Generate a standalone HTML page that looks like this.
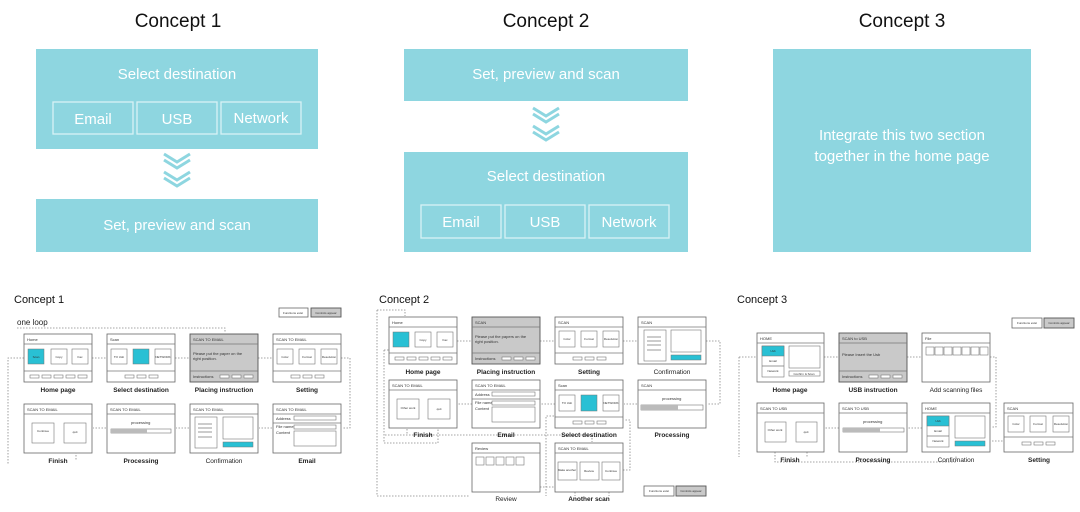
<!DOCTYPE html>
<html><head><meta charset="utf-8"><style>
html,body{margin:0;padding:0;background:#fff;}
svg{display:block;font-family:"Liberation Sans",sans-serif;}
.b{fill:#8ed6e0}
.w{fill:none;stroke:#d8f2f5;stroke-width:1.3}
.t{fill:#fff;font-size:15px;text-anchor:middle}
.h{fill:#111;font-size:19px;text-anchor:middle}
.s{fill:#fff;stroke:#666;stroke-width:.8}
.g{fill:#c9c9c9;stroke:#555;stroke-width:.9}
.l{stroke:#777;stroke-width:.7;fill:none}
.i{fill:#fff;stroke:#777;stroke-width:.6}
.c{fill:#29c0d4;stroke:#777;stroke-width:.5}
.d{stroke:#888;stroke-width:.8;stroke-dasharray:1.5 1.5;fill:none}
.x{font-size:4px;fill:#333}
.y{font-size:3px;fill:#333;text-anchor:middle}
.lb{font-size:6.5px;fill:#222;text-anchor:middle;font-weight:bold}
.ct{font-size:11px;fill:#111}
.ch{fill:none;stroke:#8ed6e0;stroke-width:3}
</style></head><body>
<svg width="1080" height="512" viewBox="0 0 1080 512" xmlns="http://www.w3.org/2000/svg">
<!-- TOP -->
<text class="h" x="178" y="27">Concept 1</text>
<text class="h" x="546" y="27">Concept 2</text>
<text class="h" x="902" y="27">Concept 3</text>

<rect class="b" x="36" y="49" width="282" height="100"/>
<text class="t" x="177" y="79">Select destination</text>
<rect class="w" x="53" y="102" width="80" height="32"/><text class="t" x="93" y="124">Email</text>
<rect class="w" x="137" y="102" width="80" height="32"/><text class="t" x="177" y="124">USB</text>
<rect class="w" x="221" y="102" width="80" height="32"/><text class="t" x="261" y="123">Network</text>
<g transform="translate(177,154)"><path class="ch" d="M-13,0 L0,8 L13,0 M-13,6 L0,14 L13,6 M-13,18 L0,26 L13,18 M-13,24 L0,32 L13,24"/></g>
<rect class="b" x="36" y="199" width="282" height="53"/>
<text class="t" x="177" y="230">Set, preview and scan</text>

<rect class="b" x="404" y="49" width="284" height="52"/>
<text class="t" x="546" y="79">Set, preview and scan</text>
<g transform="translate(546,108)"><path class="ch" d="M-13,0 L0,8 L13,0 M-13,6 L0,14 L13,6 M-13,18 L0,26 L13,18 M-13,24 L0,32 L13,24"/></g>
<rect class="b" x="404" y="152" width="284" height="100"/>
<text class="t" x="546" y="181">Select destination</text>
<rect class="w" x="421" y="205" width="80" height="33"/><text class="t" x="461" y="227">Email</text>
<rect class="w" x="505" y="205" width="80" height="33"/><text class="t" x="545" y="227">USB</text>
<rect class="w" x="589" y="205" width="80" height="33"/><text class="t" x="629" y="227">Network</text>

<rect class="b" x="773" y="49" width="258" height="203"/>
<text class="t" x="902" y="140">Integrate this two section</text>
<text class="t" x="902" y="161">together in the home page</text>

<!-- BOTTOM CONCEPT 1 -->
<text class="ct" x="14" y="303">Concept 1</text>
<text style="font-size:8px;fill:#222" x="17" y="325">one loop</text>
<rect class="s" x="279" y="308" width="29" height="9"/><text class="y" x="293" y="314">Functions exist</text>
<rect class="g" x="311" y="308" width="30" height="9"/><text class="y" x="326" y="314">Controls appear</text>
<path class="d" d="M17,328 H225 V333 M24,358 H8 V465 M92,358 H106 M175,358 H189 M258,358 H272 M341,358 H350 V428 H342 M272,428 H259 M189,428 H176 M106,428 H93 M76,440 V460"/>
<!-- s1 -->
<g transform="translate(24,334)"><rect class="s" width="68" height="48"/><path class="l" d="M0,10H68M0,37H68"/><text class="x" x="3" y="7">Home</text>
<rect class="c" x="4" y="15" width="16" height="15"/><rect class="i" x="27" y="15" width="16" height="15"/><rect class="i" x="48" y="15" width="16" height="15"/>
<text class="y" x="35" y="24">Copy</text><text class="y" x="56" y="24">Fax</text><text class="y" x="12" y="24">Scan</text>
<rect class="i" x="6" y="41" width="9" height="3"/><rect class="i" x="18" y="41" width="9" height="3"/><rect class="i" x="30" y="41" width="9" height="3"/><rect class="i" x="42" y="41" width="9" height="3"/><rect class="i" x="54" y="41" width="9" height="3"/></g>
<text class="lb" x="58" y="392">Home page</text>
<g transform="translate(107,334)"><rect class="s" width="68" height="48"/><path class="l" d="M0,10H68M0,37H68"/><text class="x" x="3" y="7">Scan</text>
<rect class="i" x="4" y="15" width="16" height="15"/><rect class="c" x="26" y="15" width="16" height="15"/><rect class="i" x="48" y="15" width="16" height="15"/>
<text class="y" x="12" y="24">TO Usb</text><text class="y" x="56" y="24">NETWORK</text>
<rect class="i" x="18" y="41" width="9" height="3"/><rect class="i" x="30" y="41" width="9" height="3"/><rect class="i" x="42" y="41" width="9" height="3"/></g>
<text class="lb" x="141" y="392">Select destination</text>
<g transform="translate(190,334)"><rect class="g" width="68" height="48"/><path class="l" d="M0,10H68M0,37H68"/><text class="x" x="3" y="7">SCAN TO EMAIL</text>
<text class="x" x="3" y="21">Please put the paper on the</text><text class="x" x="3" y="26">right position.</text><text class="x" x="3" y="44">Instructions</text>
<rect class="i" x="30" y="41" width="9" height="3"/><rect class="i" x="42" y="41" width="9" height="3"/><rect class="i" x="54" y="41" width="9" height="3"/></g>
<text class="lb" x="224" y="392">Placing instruction</text>
<g transform="translate(273,334)"><rect class="s" width="68" height="48"/><path class="l" d="M0,10H68M0,37H68"/><text class="x" x="3" y="7">SCAN TO EMAIL</text>
<rect class="i" x="4" y="15" width="16" height="15"/><rect class="i" x="26" y="15" width="16" height="15"/><rect class="i" x="48" y="15" width="16" height="15"/>
<text class="y" x="12" y="24">Color</text><text class="y" x="34" y="24">Format</text><text class="y" x="56" y="24">Resolution</text>
<rect class="i" x="18" y="41" width="9" height="3"/><rect class="i" x="30" y="41" width="9" height="3"/><rect class="i" x="42" y="41" width="9" height="3"/></g>
<text class="lb" x="307" y="392">Setting</text>
<g transform="translate(24,404)"><rect class="s" width="68" height="49"/><path class="l" d="M0,10H68"/><text class="x" x="3" y="7">SCAN TO EMAIL</text>
<rect class="i" x="8" y="19" width="22" height="20"/><rect class="i" x="40" y="19" width="22" height="20"/><text class="y" x="19" y="28">Continue</text><text class="y" x="51" y="29">quit</text></g>
<text class="lb" x="58" y="463">Finish</text>
<g transform="translate(107,404)"><rect class="s" width="68" height="49"/><path class="l" d="M0,10H68"/><text class="x" x="3" y="7">SCAN TO EMAIL</text>
<text class="x" x="24" y="20">processing</text><rect class="i" x="4" y="25" width="60" height="4"/><rect x="4" y="25" width="36" height="4" fill="#bbb"/></g>
<text class="lb" x="141" y="463">Processing</text>
<g transform="translate(190,404)"><rect class="s" width="68" height="49"/><path class="l" d="M0,10H68"/><text class="x" x="3" y="7">SCAN TO EMAIL</text>
<rect class="i" x="5" y="13" width="22" height="31"/><path class="l" d="M8,20H22M8,24H22M8,28H22M8,33H22"/><rect class="i" x="33" y="13" width="30" height="22"/><rect class="c" x="33" y="38" width="30" height="5"/></g>
<text class="lb" x="224" y="463" style="font-weight:normal">Confirmation</text>
<g transform="translate(273,404)"><rect class="s" width="68" height="49"/><path class="l" d="M0,10H68M0,19H68"/><text class="x" x="3" y="7">SCAN TO EMAIL</text>
<text class="x" x="3" y="16">Address</text><rect class="i" x="21" y="12" width="42" height="4"/><text class="x" x="3" y="24">File name</text><rect class="i" x="21" y="21" width="42" height="4"/><text class="x" x="3" y="30">Content</text><rect class="i" x="21" y="27" width="42" height="15"/></g>
<text class="lb" x="307" y="463">Email</text>

<!-- BOTTOM CONCEPT 2 -->
<text class="ct" x="379" y="303">Concept 2</text>
<path class="d" d="M377,310 H405 V316 M377,310 V496 H470 M457,341 H471 M540,341 H554 M623,341 H637 M706,341 H720 V404 H707 M637,404 H624 M555,404 H541 M472,404 H458 M384,350 V443 H438 V420 M384,350 H389 M407,420 V435 M385,435 H592 V442 M554,416 H546 V496 M540,487 H554 M575,480 V496 M623,470 H630 V420 H624 M609,480 V496"/>
<g transform="translate(389,317)"><rect class="s" width="68" height="47"/><path class="l" d="M0,10H68M0,36H68"/><text class="x" x="3" y="7">Home</text>
<rect class="c" x="4" y="15" width="16" height="15"/><rect class="i" x="26" y="15" width="16" height="15"/><rect class="i" x="48" y="15" width="16" height="15"/><text class="y" x="34" y="24">Copy</text><text class="y" x="56" y="24">Fax</text>
<rect class="i" x="6" y="40" width="9" height="3"/><rect class="i" x="18" y="40" width="9" height="3"/><rect class="i" x="30" y="40" width="9" height="3"/><rect class="i" x="42" y="40" width="9" height="3"/><rect class="i" x="54" y="40" width="9" height="3"/></g>
<text class="lb" x="423" y="374">Home page</text>
<g transform="translate(472,317)"><rect class="g" width="68" height="47"/><path class="l" d="M0,10H68M0,36H68"/><text class="x" x="3" y="7">SCAN</text>
<text class="x" x="3" y="21">Please put the papers on the</text><text class="x" x="3" y="26">right position.</text><text class="x" x="3" y="43">Instructions</text>
<rect class="i" x="30" y="40" width="9" height="3"/><rect class="i" x="42" y="40" width="9" height="3"/><rect class="i" x="54" y="40" width="9" height="3"/></g>
<text class="lb" x="506" y="374">Placing instruction</text>
<g transform="translate(555,317)"><rect class="s" width="68" height="47"/><path class="l" d="M0,10H68M0,36H68"/><text class="x" x="3" y="7">SCAN</text>
<rect class="i" x="4" y="14" width="16" height="16"/><rect class="i" x="26" y="14" width="16" height="16"/><rect class="i" x="48" y="14" width="16" height="16"/><text class="y" x="12" y="23">Color</text><text class="y" x="34" y="23">Format</text><text class="y" x="56" y="23">Resolution</text>
<rect class="i" x="18" y="40" width="9" height="3"/><rect class="i" x="30" y="40" width="9" height="3"/><rect class="i" x="42" y="40" width="9" height="3"/></g>
<text class="lb" x="589" y="374">Setting</text>
<g transform="translate(638,317)"><rect class="s" width="68" height="47"/><path class="l" d="M0,10H68"/><text class="x" x="3" y="7">SCAN</text>
<rect class="i" x="6" y="13" width="22" height="31"/><path class="l" d="M9,20H23M9,24H23M9,28H23M9,33H23"/><rect class="i" x="33" y="13" width="30" height="22"/><rect class="c" x="33" y="38" width="30" height="5"/></g>
<text class="lb" x="672" y="374" style="font-weight:normal">Confirmation</text>
<g transform="translate(389,380)"><rect class="s" width="68" height="48"/><path class="l" d="M0,10H68"/><text class="x" x="3" y="7">SCAN TO EMAIL</text>
<rect class="i" x="8" y="19" width="22" height="20"/><rect class="i" x="39" y="19" width="22" height="20"/><text class="y" x="19" y="29">Other work</text><text class="y" x="50" y="30">quit</text></g>
<text class="lb" x="423" y="437">Finish</text>
<g transform="translate(472,380)"><rect class="s" width="68" height="48"/><path class="l" d="M0,10H68M0,19H68"/><text class="x" x="3" y="7">SCAN TO EMAIL</text>
<text class="x" x="3" y="16">Address</text><rect class="i" x="20" y="12" width="43" height="4"/><text class="x" x="3" y="24">File name</text><rect class="i" x="20" y="21" width="43" height="4"/><text class="x" x="3" y="30">Content</text><rect class="i" x="20" y="27" width="43" height="15"/></g>
<text class="lb" x="506" y="437">Email</text>
<g transform="translate(555,380)"><rect class="s" width="68" height="48"/><path class="l" d="M0,10H68M0,37H68"/><text class="x" x="3" y="7">Scan</text>
<rect class="i" x="4" y="15" width="16" height="16"/><rect class="c" x="26" y="15" width="16" height="16"/><rect class="i" x="48" y="15" width="16" height="16"/><text class="y" x="12" y="24">TO Usb</text><text class="y" x="56" y="24">NETWORK</text>
<rect class="i" x="18" y="41" width="9" height="3"/><rect class="i" x="30" y="41" width="9" height="3"/><rect class="i" x="42" y="41" width="9" height="3"/></g>
<text class="lb" x="589" y="437">Select destination</text>
<g transform="translate(638,380)"><rect class="s" width="68" height="48"/><path class="l" d="M0,10H68"/><text class="x" x="3" y="7">SCAN</text>
<text class="x" x="24" y="20">processing</text><rect class="i" x="3" y="25" width="62" height="5"/><rect x="3" y="25" width="37" height="5" fill="#bbb"/></g>
<text class="lb" x="672" y="437">Processing</text>
<g transform="translate(472,443)"><rect class="s" width="68" height="49"/><path class="l" d="M0,10H68"/><text class="x" x="3" y="7">Review</text>
<rect class="i" x="4" y="14" width="8" height="8"/><rect class="i" x="14" y="14" width="8" height="8"/><rect class="i" x="24" y="14" width="8" height="8"/><rect class="i" x="34" y="14" width="8" height="8"/><rect class="i" x="44" y="14" width="8" height="8"/></g>
<text class="lb" x="506" y="501" style="font-weight:normal">Review</text>
<g transform="translate(555,443)"><rect class="s" width="68" height="49"/><path class="l" d="M0,10H68"/><text class="x" x="3" y="7">SCAN TO EMAIL</text>
<rect class="i" x="3" y="19" width="19" height="18"/><rect class="i" x="25" y="19" width="19" height="18"/><rect class="i" x="47" y="19" width="18" height="18"/><text class="y" x="12" y="28">Make another</text><text class="y" x="34" y="29">Review</text><text class="y" x="56" y="29">Continue</text></g>
<text class="lb" x="589" y="501">Another scan</text>
<rect class="s" x="644" y="486" width="30" height="10"/><text class="y" x="659" y="492">Functions exist</text>
<rect class="g" x="676" y="486" width="30" height="10"/><text class="y" x="691" y="492">Controls appear</text>

<!-- BOTTOM CONCEPT 3 -->
<text class="ct" x="737" y="303">Concept 3</text>
<rect class="s" x="1012" y="318" width="30" height="10"/><text class="y" x="1027" y="324">Functions exist</text>
<rect class="g" x="1044" y="318" width="30" height="10"/><text class="y" x="1059" y="324">Controls appear</text>
<path class="d" d="M739,357 H756 M739,357 V457 M824,357 H838 M907,357 H921 M990,357 H996 V427 H992 M992,441 H1003 M922,428 H908 M839,428 H825 M775,440 V462 H956 V455 M807,440 V458"/>
<g transform="translate(757,333)"><rect class="s" width="67" height="49"/><path class="l" d="M0,10H67"/><text class="x" x="3" y="7">HOME</text>
<rect class="i" x="5" y="13" width="22" height="31"/><rect class="c" x="5" y="13" width="22" height="10"/><path class="l" d="M5,33H27"/><text class="y" x="16" y="19">Usb</text><text class="y" x="16" y="29">Email</text><text class="y" x="16" y="39">Network</text>
<rect class="i" x="32" y="13" width="31" height="22"/><rect class="i" x="32" y="38" width="31" height="5"/><text class="y" x="47" y="42">Confirm &amp; Scan</text></g>
<text class="lb" x="790" y="392">Home page</text>
<g transform="translate(839,333)"><rect class="g" width="68" height="49"/><path class="l" d="M0,10H68M0,38H68"/><text class="x" x="3" y="7">SCAN to USB</text>
<text class="x" x="3" y="23">Please Insert the Usb</text><text class="x" x="3" y="45">Instructions</text>
<rect class="i" x="30" y="42" width="9" height="3"/><rect class="i" x="42" y="42" width="9" height="3"/><rect class="i" x="54" y="42" width="9" height="3"/></g>
<text class="lb" x="873" y="392">USB instruction</text>
<g transform="translate(922,333)"><rect class="s" width="68" height="49"/><path class="l" d="M0,10H68"/><text class="x" x="3" y="7">File</text>
<rect class="i" x="4" y="14" width="8" height="8"/><rect class="i" x="13" y="14" width="8" height="8"/><rect class="i" x="22" y="14" width="8" height="8"/><rect class="i" x="31" y="14" width="8" height="8"/><rect class="i" x="40" y="14" width="8" height="8"/><rect class="i" x="49" y="14" width="8" height="8"/><rect class="i" x="58" y="14" width="8" height="8"/></g>
<text class="lb" x="956" y="392" style="font-weight:normal">Add scanning files</text>
<g transform="translate(757,403)"><rect class="s" width="67" height="49"/><path class="l" d="M0,10H67"/><text class="x" x="3" y="7">SCAN TO USB</text>
<rect class="i" x="8" y="19" width="21" height="20"/><rect class="i" x="39" y="19" width="21" height="20"/><text class="y" x="18" y="28">Other work</text><text class="y" x="49" y="30">quit</text></g>
<text class="lb" x="790" y="462">Finish</text>
<g transform="translate(839,403)"><rect class="s" width="68" height="49"/><path class="l" d="M0,10H68"/><text class="x" x="3" y="7">SCAN TO USB</text>
<text class="x" x="24" y="20">processing</text><rect class="i" x="4" y="25" width="61" height="4"/><rect x="4" y="25" width="37" height="4" fill="#bbb"/></g>
<text class="lb" x="873" y="462">Processing</text>
<g transform="translate(922,403)"><rect class="s" width="68" height="49"/><path class="l" d="M0,10H68"/><text class="x" x="3" y="7">HOME</text>
<rect class="i" x="5" y="13" width="22" height="31"/><rect class="c" x="5" y="13" width="22" height="10"/><path class="l" d="M5,33H27"/><text class="y" x="16" y="19">Usb</text><text class="y" x="16" y="29">Email</text><text class="y" x="16" y="39">Network</text>
<rect class="i" x="33" y="13" width="30" height="22"/><rect class="c" x="33" y="38" width="30" height="5"/></g>
<text class="lb" x="956" y="462" style="font-weight:normal">Confirmation</text>
<g transform="translate(1004,403)"><rect class="s" width="69" height="49"/><path class="l" d="M0,10H69M0,34H69"/><text class="x" x="3" y="7">SCAN</text>
<rect class="i" x="4" y="13" width="16" height="16"/><rect class="i" x="26" y="13" width="16" height="16"/><rect class="i" x="49" y="13" width="16" height="16"/><text class="y" x="12" y="22">Color</text><text class="y" x="34" y="22">Format</text><text class="y" x="57" y="22">Resolution</text>
<rect class="i" x="18" y="39" width="9" height="3"/><rect class="i" x="30" y="39" width="9" height="3"/><rect class="i" x="42" y="39" width="9" height="3"/></g>
<text class="lb" x="1039" y="462">Setting</text>
</svg>
</body></html>
